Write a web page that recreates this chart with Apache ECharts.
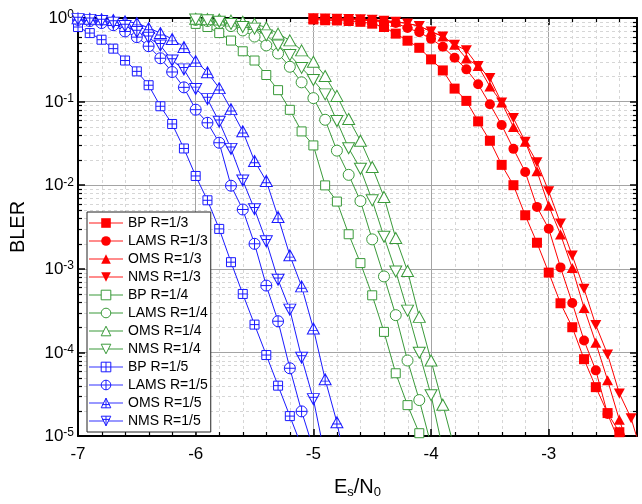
<!DOCTYPE html>
<html><head><meta charset="utf-8">
<script src="https://cdn.jsdelivr.net/npm/echarts@6/dist/echarts.min.js"></script>
<style>html,body{margin:0;padding:0;background:#fff}#c{width:642px;height:504px}</style>
</head><body><div id="c"></div>
<script>
// ---- data (x = Es/N0 in dB, y = BLER) ----
const bp3 = [[-5.0,0.96],[-4.9,0.94],[-4.8,0.935],[-4.7,0.92],[-4.6,0.9],[-4.5,0.855],[-4.4,0.78],[-4.3,0.65],[-4.2,0.535],[-4.1,0.44],[-4.0,0.32],[-3.9,0.236],[-3.8,0.143],[-3.7,0.102],[-3.6,0.058],[-3.5,0.034],[-3.4,0.0175],[-3.3,0.0100],[-3.2,0.00437],[-3.1,0.00205],[-3.0,9.0e-4],[-2.9,3.87e-4],[-2.8,2.0e-4],[-2.7,8.3e-5],[-2.6,3.84e-5],[-2.5,1.88e-5],[-2.4,1.11e-5],[-2.3,5e-6]];
const lams3 = [[-5.0,0.98],[-4.9,0.975],[-4.8,0.97],[-4.7,0.96],[-4.6,0.945],[-4.5,0.925],[-4.4,0.9],[-4.3,0.87],[-4.2,0.76],[-4.1,0.674],[-4.0,0.563],[-3.9,0.452],[-3.8,0.335],[-3.7,0.243],[-3.6,0.161],[-3.5,0.093],[-3.4,0.0524],[-3.3,0.0272],[-3.2,0.0144],[-3.1,0.0055],[-3.0,0.00301],[-2.9,0.00104],[-2.8,3.9e-4],[-2.7,1.39e-4],[-2.6,6.1e-5],[-2.5,1.83e-5],[-2.4,8.5e-6]];
const oms3 = [[-5.0,0.99],[-4.9,0.985],[-4.8,0.98],[-4.7,0.975],[-4.6,0.965],[-4.5,0.95],[-4.4,0.93],[-4.3,0.9],[-4.2,0.86],[-4.1,0.8],[-4.0,0.69],[-3.9,0.6],[-3.8,0.48],[-3.7,0.328],[-3.6,0.266],[-3.5,0.152],[-3.4,0.0976],[-3.3,0.0496],[-3.2,0.0332],[-3.1,0.0147],[-3.0,0.00566],[-2.9,0.00258],[-2.8,0.00102],[-2.7,3.4e-4],[-2.6,1.3e-4],[-2.5,4.65e-5],[-2.4,1.56e-5],[-2.3,6e-6]];
const nms3 = [[-5.0,0.99],[-4.9,0.985],[-4.8,0.98],[-4.7,0.975],[-4.6,0.965],[-4.5,0.95],[-4.4,0.93],[-4.3,0.9],[-4.2,0.86],[-4.1,0.8],[-4.0,0.69],[-3.9,0.6],[-3.8,0.48],[-3.7,0.41],[-3.6,0.266],[-3.5,0.192],[-3.4,0.0976],[-3.3,0.0635],[-3.2,0.0332],[-3.1,0.0188],[-3.0,0.00844],[-2.9,0.00348],[-2.8,0.00144],[-2.7,5.77e-4],[-2.6,2.12e-4],[-2.5,9.47e-5],[-2.4,3.23e-5],[-2.3,1.63e-5],[-2.2,5.5e-6]];
const bp4 = [[-6.0,0.85],[-5.9,0.78],[-5.8,0.66],[-5.7,0.537],[-5.6,0.40],[-5.5,0.31],[-5.4,0.208],[-5.3,0.137],[-5.2,0.0797],[-5.1,0.044],[-5.0,0.0299],[-4.9,0.00995],[-4.8,0.00637],[-4.7,0.00259],[-4.6,0.00117],[-4.5,4.82e-4],[-4.4,1.76e-4],[-4.3,5.63e-5],[-4.2,2.34e-5],[-4.1,1.08e-5],[-4.0,3e-6]];
const lams4 = [[-6.0,0.95],[-5.9,0.92],[-5.8,0.87],[-5.7,0.80],[-5.6,0.71],[-5.5,0.60],[-5.4,0.47],[-5.3,0.376],[-5.2,0.261],[-5.1,0.170],[-5.0,0.11],[-4.9,0.0606],[-4.8,0.0259],[-4.7,0.0133],[-4.6,0.00646],[-4.5,0.00225],[-4.4,8.1e-4],[-4.3,2.79e-4],[-4.2,8.0e-5],[-4.1,2.69e-5],[-4.0,7.8e-6]];
const oms4 = [[-6.0,0.98],[-5.9,0.97],[-5.8,0.96],[-5.7,0.93],[-5.6,0.9],[-5.5,0.85],[-5.4,0.77],[-5.3,0.65],[-5.2,0.54],[-5.1,0.41],[-5.0,0.30],[-4.9,0.202],[-4.8,0.117],[-4.7,0.0618],[-4.6,0.0341],[-4.5,0.0165],[-4.4,0.00724],[-4.3,0.00233],[-4.2,9.4e-4],[-4.1,2.66e-4],[-4.0,8.0e-5],[-3.9,2.37e-5],[-3.8,7e-6]];
const nms4 = [[-6.0,0.96],[-5.9,0.94],[-5.8,0.9],[-5.7,0.85],[-5.6,0.78],[-5.5,0.746],[-5.4,0.62],[-5.3,0.47],[-5.2,0.36],[-5.1,0.253],[-5.0,0.181],[-4.9,0.122],[-4.8,0.0585],[-4.7,0.0277],[-4.6,0.0157],[-4.5,0.00659],[-4.4,0.00242],[-4.3,9.3e-4],[-4.2,3.16e-4],[-4.1,9.9e-5],[-4.0,3.08e-5],[-3.9,6.9e-6]];
const bp5 = [[-7.0,0.78],[-6.9,0.66],[-6.8,0.55],[-6.7,0.43],[-6.6,0.31],[-6.5,0.23],[-6.4,0.157],[-6.3,0.088],[-6.2,0.054],[-6.1,0.0275],[-6.0,0.0129],[-5.9,0.0066],[-5.8,0.0030],[-5.7,0.0012],[-5.6,5.0e-4],[-5.5,2.15e-4],[-5.4,9.3e-5],[-5.3,4.0e-5],[-5.2,1.73e-5],[-5.1,7.5e-6]];
const lams5 = [[-7.0,0.95],[-6.9,0.92],[-6.8,0.87],[-6.7,0.82],[-6.6,0.69],[-6.5,0.59],[-6.4,0.46],[-6.3,0.33],[-6.2,0.226],[-6.1,0.148],[-6.0,0.080],[-5.9,0.0558],[-5.8,0.0322],[-5.7,0.00986],[-5.6,0.00512],[-5.5,0.00199],[-5.4,6.3e-4],[-5.3,2.36e-4],[-5.2,6.46e-5],[-5.1,1.97e-5],[-5.0,7e-6]];
const oms5 = [[-7.0,0.99],[-6.9,0.98],[-6.8,0.965],[-6.7,0.945],[-6.6,0.91],[-6.5,0.87],[-6.4,0.76],[-6.3,0.66],[-6.2,0.56],[-6.1,0.45],[-6.0,0.305],[-5.9,0.224],[-5.8,0.145],[-5.7,0.0813],[-5.6,0.0442],[-5.5,0.0195],[-5.4,0.01125],[-5.3,0.00416],[-5.2,0.00145],[-5.1,6.16e-4],[-5.0,1.93e-4],[-4.9,4.77e-5],[-4.8,1.46e-5],[-4.7,3e-6]];
const nms5 = [[-7.0,0.97],[-6.9,0.95],[-6.8,0.92],[-6.7,0.88],[-6.6,0.8],[-6.5,0.68],[-6.4,0.58],[-6.3,0.47],[-6.2,0.31],[-6.1,0.243],[-6.0,0.1416],[-5.9,0.107],[-5.8,0.0574],[-5.7,0.0272],[-5.6,0.0114],[-5.5,0.00515],[-5.4,0.00213],[-5.3,7.4e-4],[-5.2,3.25e-4],[-5.1,8.65e-5],[-5.0,2.76e-5],[-4.9,5.6e-6]];

const seriesNames = ['BP R=1/3','LAMS R=1/3','OMS R=1/3','NMS R=1/3','BP R=1/4','LAMS R=1/4','OMS R=1/4','NMS R=1/4','BP R=1/5','LAMS R=1/5','OMS R=1/5','NMS R=1/5'];
const X_MIN = -7, X_MAX = -2.25, Y_MIN = 1e-5, Y_MAX = 1;
const xMinorTicks = [];
for (let i = -35; i <= -12; i++) { if (i % 5 !== 0) xMinorTicks.push(i / 5); }
const yMinorTicks = [];
for (let e = -5; e <= -1; e++) { for (let k = 2; k <= 9; k++) yMinorTicks.push(k * Math.pow(10, e)); }

// ---- styling ----
const FONT = 'Liberation Sans, Arial, sans-serif';
const RED = '#ff0000', GREEN = '#3a9a3a', BLUE = '#1a1aff';
const P_SQ = 'path://M0,0L10,0L10,10L0,10ZM5,0L5,10M0,5L10,5';
const P_CI = 'path://M0,5A5,5 0 1,1 10,5A5,5 0 1,1 0,5ZM5,0L5,10M0,5L10,5';
const P_TU = 'path://M5,0L10,9L0,9ZM5,0L5,9M1,6L9,6';
const P_TD = 'path://M0,0L10,0L5,9ZM5,0L5,9M1,3L9,3';

function itemStyleOf(color, filled) {
  return filled ? { color: color, borderColor: color, borderWidth: 0 }
                : { color: '#ffffff', borderColor: color, borderWidth: 1 };
}
function mk(name, data, color, symbol, size, filled, rotate) {
  return {
    name, type: 'line', data, clip: true, showAllSymbol: true,
    symbol, symbolSize: size, symbolRotate: rotate || 0, symbolKeepAspect: false,
    lineStyle: { color, width: 1 },
    itemStyle: itemStyleOf(color, filled),
    emphasis: { disabled: true }, animation: false, z: 3
  };
}

const series = [
  mk(seriesNames[0], bp3, RED, 'rect', 10, true),
  mk(seriesNames[1], lams3, RED, 'circle', 10, true),
  mk(seriesNames[2], oms3, RED, 'triangle', [11, 10], true),
  mk(seriesNames[3], nms3, RED, 'triangle', [11, 10], true, 180),
  mk(seriesNames[4], bp4, GREEN, 'rect', 9, false),
  mk(seriesNames[5], lams4, GREEN, 'circle', 11, false),
  mk(seriesNames[6], oms4, GREEN, 'triangle', [12, 11], false),
  mk(seriesNames[7], nms4, GREEN, 'triangle', [12, 11], false, 180),
  mk(seriesNames[8], bp5, BLUE, P_SQ, 9, false),
  mk(seriesNames[9], lams5, BLUE, P_CI, 11, false),
  mk(seriesNames[10], oms5, BLUE, P_TU, [12, 11], false),
  mk(seriesNames[11], nms5, BLUE, P_TD, [12, 11], false)
];

// minor grid lines and minor ticks, placed through the axes' scales
series.push({
  type: 'custom', silent: true, z: 1, animation: false, clip: false,
  data: [[X_MIN, Y_MAX]],
  renderItem: function (params, api) {
    const tl = api.coord([X_MIN, Y_MAX]);
    const br = api.coord([X_MAX, Y_MIN]);
    const ch = [];
    const grid = { stroke: '#d6d6d6', lineWidth: 1, lineDash: [3, 3] };
    const tick = { stroke: '#000', lineWidth: 1.2 };
    xMinorTicks.forEach(function (v) {
      const x = Math.round(api.coord([v, Y_MIN])[0]) + 0.5;
      ch.push({ type: 'line', shape: { x1: x, y1: tl[1], x2: x, y2: br[1] }, style: grid, z2: 0 });
      ch.push({ type: 'line', shape: { x1: x, y1: br[1], x2: x, y2: br[1] - 4 }, style: tick, z2: 5 });
      ch.push({ type: 'line', shape: { x1: x, y1: tl[1], x2: x, y2: tl[1] + 4 }, style: tick, z2: 5 });
    });
    yMinorTicks.forEach(function (v) {
      const y = Math.round(api.coord([X_MIN, v])[1]) + 0.5;
      ch.push({ type: 'line', shape: { x1: tl[0], y1: y, x2: br[0], y2: y }, style: grid, z2: 0 });
      ch.push({ type: 'line', shape: { x1: tl[0], y1: y, x2: tl[0] + 4, y2: y }, style: tick, z2: 5 });
      ch.push({ type: 'line', shape: { x1: br[0], y1: y, x2: br[0] - 4, y2: y }, style: tick, z2: 5 });
    });
    return { type: 'group', children: ch };
  }
});

const axisLineStyle = { show: true, lineStyle: { color: '#000', width: 2 } };
const majorTick = { show: true, inside: true, length: 7, lineStyle: { color: '#000', width: 1.5 } };

const legendData = seriesNames.map(function (n, i) {
  const base = i < 4 ? RED : (i < 8 ? GREEN : BLUE);
  const c = i < 4 ? 'rgba(255,0,0,0.45)' : (i < 8 ? 'rgba(58,154,58,0.5)' : 'rgba(26,26,255,0.45)');
  return { name: n, lineStyle: { color: c, width: 2 }, itemStyle: itemStyleOf(base, i < 4) };
});

const option = {
  backgroundColor: '#fff',
  animation: false,
  grid: { left: 77, top: 18, width: 560, height: 421, containLabel: false },
  legend: {
    orient: 'vertical', left: 87, top: 212, selectedMode: false,
    itemWidth: 34, itemHeight: 12, itemGap: 4, padding: [4, 3, 4, 1],
    backgroundColor: '#fff', borderColor: '#222', borderWidth: 1,
    textStyle: { fontSize: 14, fontFamily: FONT, color: '#000' },
    data: legendData
  },
  xAxis: [
    {
      type: 'value', min: X_MIN, max: X_MAX, interval: 1, position: 'bottom',
      axisLine: axisLineStyle, axisTick: majorTick,
      axisLabel: { fontSize: 17, fontFamily: FONT, color: '#000', margin: 10, showMaxLabel: false },
      splitLine: { show: true, lineStyle: { color: '#a4a4a4', width: 1 } },
      name: '{a|E}{b|s}{a|/N}{b|0}', nameLocation: 'middle', nameGap: 41, nameMoveOverlap: false,
      nameTextStyle: {
        rich: {
          a: { fontSize: 20, fontFamily: FONT, color: '#000', verticalAlign: 'top', lineHeight: 22 },
          b: { fontSize: 13, fontFamily: FONT, color: '#000', verticalAlign: 'bottom', lineHeight: 14, padding: [12, 0, 0, 0] }
        }
      }
    },
    {
      type: 'value', min: X_MIN, max: X_MAX, interval: 1, position: 'top',
      axisLine: axisLineStyle, axisTick: majorTick,
      axisLabel: { show: false }, splitLine: { show: false }
    }
  ],
  yAxis: [
    {
      type: 'log', logBase: 10, min: Y_MIN, max: Y_MAX, position: 'left',
      axisLine: axisLineStyle, axisTick: majorTick,
      splitLine: { show: true, lineStyle: { color: '#a4a4a4', width: 1 } },
      axisLabel: {
        margin: 4, color: '#000',
        formatter: function (v) { return '{b|10}{s|' + Math.round(Math.log10(v)) + '}'; },
        rich: {
          b: { fontSize: 17, fontFamily: FONT, color: '#000', verticalAlign: 'bottom', lineHeight: 18 },
          s: { fontSize: 12, fontFamily: FONT, color: '#000', verticalAlign: 'top', lineHeight: 12, padding: [0, 0, 9, 0] }
        }
      },
      name: 'BLER', nameLocation: 'middle', nameGap: 50, nameMoveOverlap: false,
      nameTextStyle: { fontSize: 20, fontFamily: FONT, color: '#000' }
    },
    {
      type: 'log', logBase: 10, min: Y_MIN, max: Y_MAX, position: 'right',
      axisLine: axisLineStyle, axisTick: majorTick,
      axisLabel: { show: false }, splitLine: { show: false }
    }
  ],
  series: series
};

const chart = echarts.init(document.getElementById('c'), null, { renderer: 'canvas' });
chart.setOption(option);
</script>
</body></html>
